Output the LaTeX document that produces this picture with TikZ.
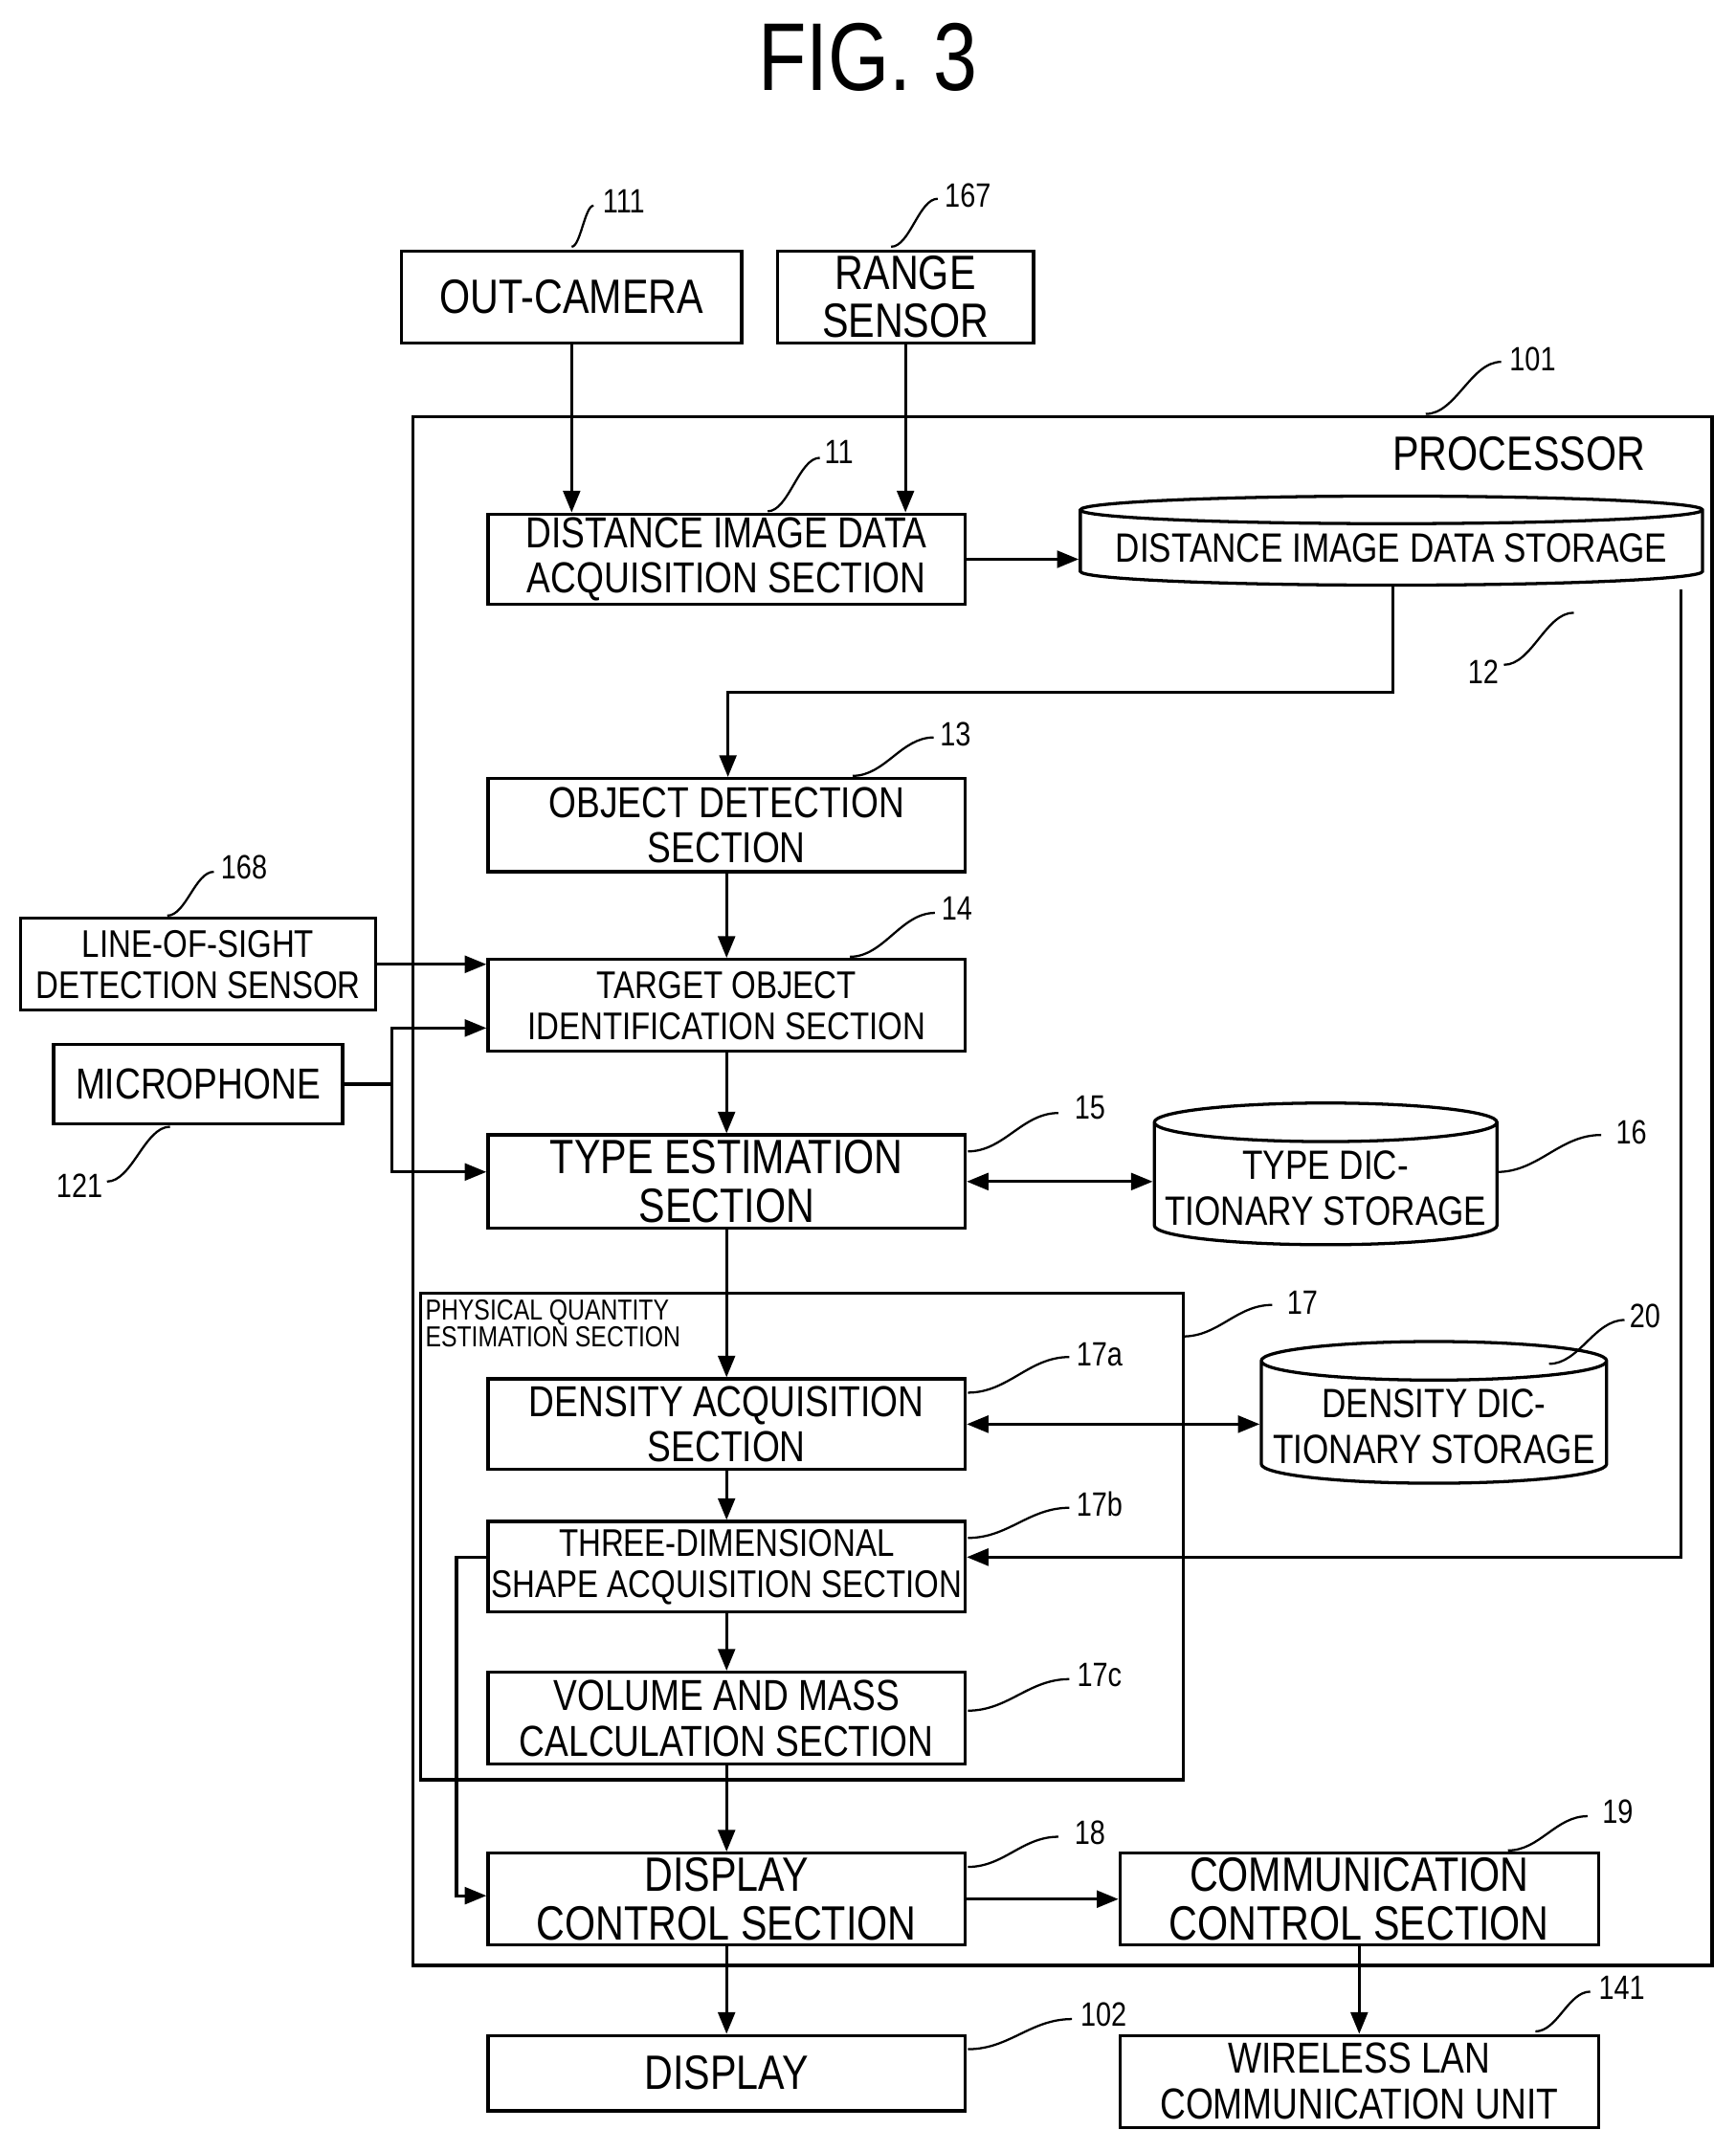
\documentclass[tikz,border=0pt]{standalone}
\usepackage{fontspec}
\setmainfont{Liberation Sans}[FakeStretch=0.82]
\usetikzlibrary{shapes.geometric,arrows.meta}
\begin{document}
\begin{tikzpicture}[x=0.02cm,y=-0.02cm,
 bx/.style={draw,line width=1.3pt,inner sep=0pt,align=center,font=\fontsize{18}{19}\selectfont},
 ar/.style={line width=1.3pt,-{Triangle[length=9pt,width=7pt]}},
 ln/.style={line width=1.3pt},
 lb/.style={font=\fontsize{14}{14}\selectfont},
 cyl/.style={draw,line width=1.3pt,cylinder,shape border rotate=90,aspect=0.12,inner sep=0pt,align=center,font=\fontsize{17}{19}\selectfont}]
\useasboundingbox (0,0) rectangle (1266,1570);
\newcommand{\bxx}[6]{\node[bx,#6,minimum width={(#3-#2)*0.02cm},minimum height={(#5-#4)*0.02cm}] (#1) at ({(#2+#3)/2},{(#4+#5)/2})}
\newcommand{\lead}[4]{\draw[line width=0.9pt] (#1,#2) .. controls ({#1+0.4*(#3-#1)},#2) and ({#1+0.6*(#3-#1)},#4) .. (#3,#4);}
\node[font=\fontsize{40}{40}\selectfont] (fig) at (633,42) {FIG. 3};
\node[draw,line width=1.3pt,minimum width=18.96cm,minimum height=22.6cm,inner sep=0pt] (proc) at (775,869) {};
\node[font=\fontsize{20}{20}\selectfont] (proct) at (1108,331) {PROCESSOR};
\bxx{cam}{293}{541}{183}{250}{font=\fontsize{20}{20}\selectfont}{OUT-CAMERA};
\bxx{rng}{567}{754}{183}{250}{font=\fontsize{20}{20}\selectfont}{RANGE\\SENSOR};
\bxx{acq}{356}{704}{375}{441}{}{DISTANCE IMAGE DATA\\ACQUISITION SECTION};
\node[cyl,aspect=0.05,minimum width=9.08cm,minimum height=1.3cm] (sto) at (1015,400) {DISTANCE IMAGE DATA STORAGE};
\bxx{obj}{356}{704}{568}{636}{}{OBJECT DETECTION\\SECTION};
\bxx{los}{15}{274}{670}{737}{font=\fontsize{16}{17}\selectfont}{LINE-OF-SIGHT\\DETECTION SENSOR};
\bxx{tgt}{356}{704}{700}{767}{font=\fontsize{16}{17}\selectfont}{TARGET OBJECT\\IDENTIFICATION SECTION};
\bxx{mic}{39}{250}{762}{820}{}{MICROPHONE};
\bxx{typ}{356}{704}{828}{896}{font=\fontsize{20}{20}\selectfont}{TYPE ESTIMATION\\SECTION};
\node[cyl,minimum width=5cm,minimum height=1.45cm] (tdc) at (967,864) {\\[-4pt]TYPE DIC-\\TIONARY STORAGE};
\node[draw,line width=1.3pt,minimum width=11.12cm,minimum height=7.1cm,inner sep=0pt] (pq) at (585,1121) {};
\node[font=\fontsize{12}{11}\selectfont,align=left,anchor=north west,inner sep=0pt] (pqt) at (310,948) {PHYSICAL QUANTITY\\ESTIMATION SECTION};
\bxx{den}{356}{704}{1006}{1072}{}{DENSITY ACQUISITION\\SECTION};
\node[cyl,minimum width=5.04cm,minimum height=1.6cm] (ddc) at (1046,1038) {\\[-4pt]DENSITY DIC-\\TIONARY STORAGE};
\bxx{shp}{356}{704}{1110}{1176}{font=\fontsize{16}{17}\selectfont}{THREE-DIMENSIONAL\\SHAPE ACQUISITION SECTION};
\bxx{vol}{356}{704}{1220}{1287}{}{VOLUME AND MASS\\CALCULATION SECTION};
\bxx{dcs}{356}{704}{1352}{1419}{font=\fontsize{20}{20}\selectfont}{DISPLAY\\CONTROL SECTION};
\bxx{ccs}{817}{1166}{1352}{1419}{font=\fontsize{20}{20}\selectfont}{COMMUNICATION\\CONTROL SECTION};
\bxx{dsp}{356}{704}{1485}{1540}{font=\fontsize{20}{20}\selectfont}{DISPLAY};
\bxx{wl}{817}{1166}{1485}{1552}{}{WIRELESS LAN\\COMMUNICATION UNIT};
% labels
\node[lb] (l111) at (455,147) {111}; \lead{417}{180}{433}{150}
\node[lb] (l167) at (706,143) {167}; \lead{650}{180}{684}{145}
\node[lb] (l101) at (1118,262) {101}; \lead{1040}{302}{1095}{264}
\node[lb] (l11) at (612,330) {11}; \lead{560}{373}{598}{334}
\node[lb] (l12) at (1082,490) {12}; \lead{1097}{485}{1148}{447}
\node[lb] (l13) at (697,536) {13}; \lead{622}{566}{681}{538}
\node[lb] (l168) at (178,633) {168}; \lead{122}{668}{156}{636}
\node[lb] (l14) at (698,663) {14}; \lead{620}{698}{682}{666}
\node[lb] (l121) at (58,865) {121}; \lead{78}{862}{124}{822}
\node[lb] (l15) at (795,808) {15}; \lead{706}{840}{772}{812}
\node[lb] (l16) at (1190,826) {16}; \lead{1092}{855}{1168}{828}
\node[lb] (l17) at (950,950) {17}; \lead{863}{975}{928}{952}
\node[lb] (l17a) at (802,988) {17a}; \lead{706}{1016}{780}{990}
\node[lb] (l20) at (1200,960) {20}; \lead{1130}{995}{1185}{963}
\node[lb] (l17b) at (802,1097) {17b}; \lead{706}{1122}{780}{1100}
\node[lb] (l17c) at (802,1222) {17c}; \lead{706}{1248}{780}{1225}
\node[lb] (l18) at (795,1337) {18}; \lead{706}{1362}{772}{1340}
\node[lb] (l19) at (1180,1322) {19}; \lead{1100}{1350}{1158}{1325}
\node[lb] (l102) at (805,1470) {102}; \lead{706}{1495}{782}{1473}
\node[lb] (l141) at (1183,1450) {141}; \lead{1120}{1482}{1160}{1453}
% connectors
\draw[ar] (cam.south) -- (acq.north -| cam.south);
\draw[ar] (rng.south) -- (acq.north -| rng.south);
\draw[ar] (acq.east) -- (sto.west |- acq.east);
\coordinate (c1) at (1016,505); \coordinate (c2) at (531,505);
\draw[ar] (sto.south -| c1) -- (c1) -- (c2) -- (obj.north -| c2);
\draw[ar] (obj.south) -- (tgt.north);
\draw[ar] (los.east) -- (tgt.west |- los.east);
\coordinate (m1) at (286,791); \coordinate (m2) at (286,750); \coordinate (m3) at (286,855);
\draw[ar] (mic.east) -- (m1) -- (m2) -- (tgt.west |- m2);
\draw[ar] (m1) -- (m3) -- (typ.west |- m3);
\draw[ar] (tgt.south) -- (typ.north);
\draw[ln,{Triangle[length=9pt,width=7pt]}-{Triangle[length=9pt,width=7pt]}] (typ.east) -- (tdc.west |- typ.east);
\draw[ar] (typ.south) -- (den.north);
\draw[ln,{Triangle[length=9pt,width=7pt]}-{Triangle[length=9pt,width=7pt]}] (den.east) -- (ddc.west |- den.east);
\coordinate (s1) at (1226,430); \coordinate (s2) at (1226,1136);
\draw[ar] (s1) -- (s2) -- (shp.east |- s2);
\draw[ar] (den.south) -- (shp.north);
\draw[ar] (shp.south) -- (vol.north);
\draw[ar] (vol.south) -- (dcs.north);
\coordinate (h1) at (333,1136); \coordinate (h2) at (333,1383);
\draw[ar] (shp.west |- h1) -- (h1) -- (h2) -- (dcs.west |- h2);
\draw[ar] (dcs.east) -- (ccs.west);
\draw[ar] (dcs.south) -- (dsp.north);
\draw[ar] (ccs.south) -- (wl.north);
\end{tikzpicture}
\end{document}
